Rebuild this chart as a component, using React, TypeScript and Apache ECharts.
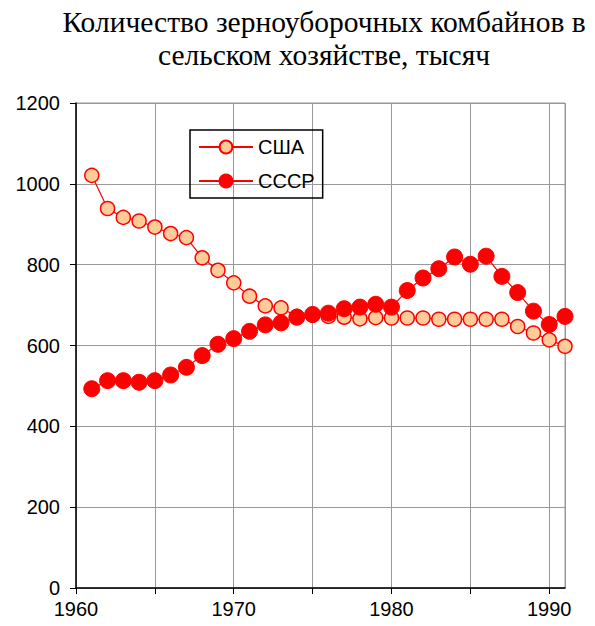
import React, { useEffect, useRef } from "react";
import * as echarts from "echarts";

const years = [1961,1962,1963,1964,1965,1966,1967,1968,1969,1970,1971,1972,1973,1974,1975,1976,1977,1978,1979,1980,1981,1982,1983,1984,1985,1986,1987,1988,1989,1990,1991];
const usa = [1021,939,917,908,893,877,867,817,786,755,722,698,693,672,675,672,670,666,669,668,668,668,665,665,665,665,665,647,631,614,598];
const ussr = [493,513,513,509,513,527,546,575,603,617,635,651,656,670,677,680,691,695,702,695,736,767,790,819,801,821,771,731,685,652,672];
const titleLines = ["Количество зерноуборочных комбайнов в", "сельском хозяйстве, тысяч"];
const seriesNames = ["США", "СССР"];

export default function App() {
  const ref = useRef<HTMLDivElement>(null);
  useEffect(() => {
    if (!ref.current) return;
    const chart = echarts.init(ref.current, null, { renderer: "svg" });
    const font = "'Liberation Sans', Arial, sans-serif";
    chart.setOption({
      animation: false,
      backgroundColor: "#fff",
      title: {
        text: titleLines.join("\n"),
        left: 319,
        top: 0,
        textAlign: "center",
        textStyle: {
          fontFamily: "'Liberation Serif', 'Times New Roman', serif",
          fontSize: 29.5,
          fontWeight: "normal",
          color: "#000",
          lineHeight: 33,
        },
      },
      grid: {
        left: 76,
        right: 30,
        top: 103,
        bottom: 38,
        show: true,
        borderColor: "#999",
        borderWidth: 1,
      },
      legend: {
        orient: "vertical",
        left: 190,
        top: 130,
        borderColor: "#000",
        borderWidth: 1.5,
        padding: [7, 8, 7, 8],
        itemGap: 14,
        itemWidth: 54,
        itemHeight: 16,
        textStyle: { fontFamily: font, fontSize: 20, color: "#000" },
        data: seriesNames,
      },
      xAxis: {
        type: "value",
        min: 1960,
        max: 1991,
        interval: 5,
        axisLine: { show: true, lineStyle: { color: "#000", width: 1.5 } },
        axisTick: { show: true, length: 6, lineStyle: { color: "#000" } },
        splitLine: { show: true, lineStyle: { color: "#999", width: 1 } },
        axisLabel: {
          fontFamily: font,
          fontSize: 20,
          lineHeight: 20,
          color: "#000",
          margin: 11,
          showMaxLabel: false,
          formatter: (v: number) => (v % 10 === 0 ? String(v) : ""),
        },
      },
      yAxis: {
        type: "value",
        min: 0,
        max: 1200,
        interval: 200,
        axisLine: { show: true, lineStyle: { color: "#000", width: 1.5 } },
        axisTick: { show: true, length: 6, lineStyle: { color: "#000" } },
        splitLine: { show: true, lineStyle: { color: "#999", width: 1 } },
        axisLabel: {
          fontFamily: font,
          fontSize: 20,
          color: "#000",
          margin: 16,
          formatter: (v: number) => String(v),
        },
      },
      series: [
        {
          name: seriesNames[0],
          type: "line",
          data: years.map((y, i) => [y, usa[i]]),
          symbol: "circle",
          symbolSize: 14,
          lineStyle: { color: "#ff0000", width: 1.2 },
          itemStyle: { color: "#ffcc99", borderColor: "#ff0000", borderWidth: 1.5 },
        },
        {
          name: seriesNames[1],
          type: "line",
          data: years.map((y, i) => [y, ussr[i]]),
          symbol: "circle",
          symbolSize: 16,
          lineStyle: { color: "#ff0000", width: 1.2 },
          itemStyle: { color: "#ff0000", borderColor: "#ff0000", borderWidth: 1 },
        },
      ],
    });
    return () => chart.dispose();
  }, []);
  return <div ref={ref} style={{ width: 595, height: 626, margin: -8 }} />;
}
